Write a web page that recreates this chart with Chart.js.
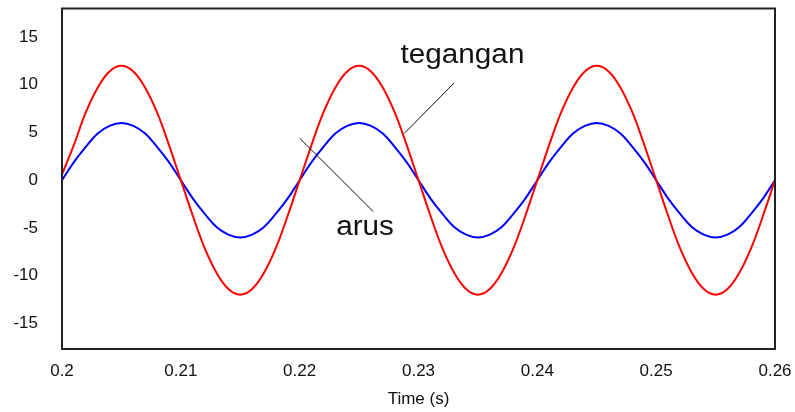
<!DOCTYPE html>
<html>
<head>
<meta charset="utf-8">
<script src="https://cdn.jsdelivr.net/npm/chart.js@4/dist/chart.umd.min.js"></script>
<style>
  body { margin: 0; background: #fff; }
  #wrap { width: 795px; height: 412px; }
</style>
</head>
<body>
<div id="wrap"><canvas id="waveChart" width="795" height="412"></canvas></div>
<script>
// waktu (s), tiap 1 ms
const timeValues = [
  0.200, 0.201, 0.202, 0.203, 0.204, 0.205, 0.206, 0.207, 0.208, 0.209,
  0.210, 0.211, 0.212, 0.213, 0.214, 0.215, 0.216, 0.217, 0.218, 0.219,
  0.220, 0.221, 0.222, 0.223, 0.224, 0.225, 0.226, 0.227, 0.228, 0.229,
  0.230, 0.231, 0.232, 0.233, 0.234, 0.235, 0.236, 0.237, 0.238, 0.239,
  0.240, 0.241, 0.242, 0.243, 0.244, 0.245, 0.246, 0.247, 0.248, 0.249,
  0.250, 0.251, 0.252, 0.253, 0.254, 0.255, 0.256, 0.257, 0.258, 0.259,
  0.260
];

// tegangan (merah)
const teganganValues = [
  0.6, 3.7, 7.1, 9.7, 11.4, 12, 11.4, 9.7, 7.1, 3.7,
  0, -3.7, -7.1, -9.7, -11.4, -12, -11.4, -9.7, -7.1, -3.7,
  0, 3.7, 7.1, 9.7, 11.4, 12, 11.4, 9.7, 7.1, 3.7,
  0, -3.7, -7.1, -9.7, -11.4, -12, -11.4, -9.7, -7.1, -3.7,
  0, 3.7, 7.1, 9.7, 11.4, 12, 11.4, 9.7, 7.1, 3.7,
  0, -3.7, -7.1, -9.7, -11.4, -12, -11.4, -9.7, -7.1, -3.7,
  0
];

// arus (biru)
const arusValues = [
  0, 1.9, 3.5, 4.9, 5.7, 6, 5.7, 4.9, 3.5, 1.9,
  0, -1.9, -3.5, -4.9, -5.7, -6, -5.7, -4.9, -3.5, -1.9,
  0, 1.9, 3.5, 4.9, 5.7, 6, 5.7, 4.9, 3.5, 1.9,
  0, -1.9, -3.5, -4.9, -5.7, -6, -5.7, -4.9, -3.5, -1.9,
  0, 1.9, 3.5, 4.9, 5.7, 6, 5.7, 4.9, 3.5, 1.9,
  0, -1.9, -3.5, -4.9, -5.7, -6, -5.7, -4.9, -3.5, -1.9,
  0
];

const xTicks = [0.2, 0.21, 0.22, 0.23, 0.24, 0.25, 0.26];
const xTickLabels = ['0.2', '0.21', '0.22', '0.23', '0.24', '0.25', '0.26'];
const yTicks = [-15, -10, -5, 0, 5, 10, 15];

// label + garis penunjuk (koordinat data)
const labelNotes = [
  { text: 'tegangan', at: [0.2337, 13.1], from: [0.2330, 10.2], to: [0.2288, 4.9] },
  { text: 'arus', at: [0.2255, -5.0], from: [0.2262, -3.3], to: [0.2200, 4.4] }
];

const FONT = '"Liberation Sans", Arial, sans-serif';
const toPoints = (vals) => vals.map((v, i) => ({ x: timeValues[i], y: v }));

const frameAndNotes = {
  id: 'frameAndNotes',
  afterDatasetsDraw(chart) {
    const { ctx, chartArea: a, scales: { x, y } } = chart;
    ctx.save();
    ctx.strokeStyle = '#222';
    ctx.lineWidth = 2;
    ctx.strokeRect(a.left, a.top, a.right - a.left, a.bottom - a.top);

    ctx.strokeStyle = '#111';
    ctx.lineWidth = 1;
    ctx.fillStyle = '#111';
    ctx.font = '27px ' + FONT;
    ctx.textAlign = 'center';
    ctx.textBaseline = 'middle';
    labelNotes.forEach(n => {
      ctx.beginPath();
      ctx.moveTo(x.getPixelForValue(n.from[0]), y.getPixelForValue(n.from[1]));
      ctx.lineTo(x.getPixelForValue(n.to[0]), y.getPixelForValue(n.to[1]));
      ctx.stroke();
      // teks aslinya sedikit lebar
      ctx.save();
      ctx.translate(x.getPixelForValue(n.at[0]), y.getPixelForValue(n.at[1]));
      ctx.scale(1.1, 1);
      ctx.fillText(n.text, 0, 0);
      ctx.restore();
    });
    ctx.restore();
  }
};

new Chart(document.getElementById('waveChart'), {
  type: 'line',
  data: {
    datasets: [
      {
        label: 'tegangan',
        data: toPoints(teganganValues),
        borderColor: '#ff0000',
        borderWidth: 2,
        pointRadius: 0,
        tension: 0.4
      },
      {
        label: 'arus',
        data: toPoints(arusValues),
        borderColor: '#0000ff',
        borderWidth: 2,
        pointRadius: 0,
        tension: 0.4
      }
    ]
  },
  options: {
    responsive: false,
    animation: false,
    layout: { padding: { top: 8, right: 20, left: 0, bottom: 0 } },
    plugins: { legend: { display: false }, tooltip: { enabled: false } },
    scales: {
      x: {
        type: 'linear',
        min: 0.2,
        max: 0.26,
        grid: { display: false, drawTicks: true, tickLength: 14 },
        border: { display: false },
        afterBuildTicks: (s) => { s.ticks = xTicks.map(v => ({ value: v })); },
        afterFit: (s) => { s.height = 63; },
        ticks: {
          padding: 0,
          maxRotation: 0,
          color: '#111',
          font: { family: FONT, size: 17, lineHeight: 1 },
          callback: (v, i) => xTickLabels[i]
        },
        title: {
          display: true,
          text: 'Time (s)',
          color: '#111',
          padding: { top: 0, bottom: 2 },
          font: { family: FONT, size: 17 }
        }
      },
      y: {
        min: -17.7,
        max: 18,
        grid: { display: false, drawTicks: true, tickLength: 24 },
        border: { display: false },
        afterBuildTicks: (s) => { s.ticks = yTicks.map(v => ({ value: v })); },
        afterFit: (s) => { s.width = 62; },
        ticks: {
          padding: 0,
          color: '#111',
          font: { family: FONT, size: 17, lineHeight: 1 }
        }
      }
    }
  },
  plugins: [frameAndNotes]
});
</script>
</body>
</html>
